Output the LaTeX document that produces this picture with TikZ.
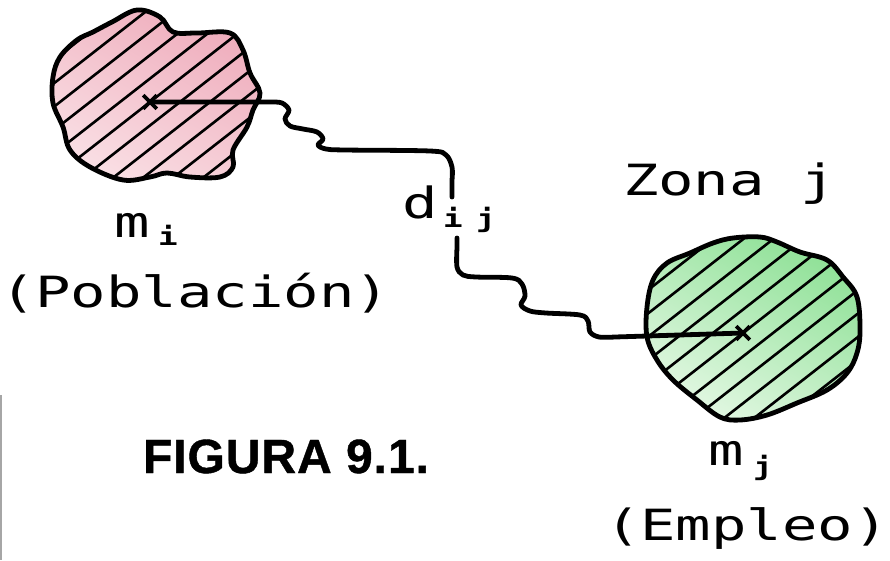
\documentclass[tikz,border=0pt]{standalone}
\usepackage{fontspec}
\newfontfamily\plotfont{DejaVu Sans Mono}
\newfontfamily\figfont[FakeBold=0.9,LetterSpace=2]{Liberation Sans Bold}
\usetikzlibrary{shapes.misc}
\definecolor{pinkA}{RGB}{238,170,186}
\definecolor{pinkB}{RGB}{250,225,230}
\definecolor{greenA}{RGB}{140,224,148}
\definecolor{greenB}{RGB}{228,248,228}
\newcommand\pf[1]{\scalebox{1.37}[1]{\fontsize{43}{43}\selectfont\plotfont #1}}
\newcommand\pfs[1]{\scalebox{1.3}[1]{\fontsize{25}{25}\selectfont\plotfont\bfseries #1}}
\tikzset{
  outline/.style={line width=4.8pt, line join=round},
  hatch/.style={line width=2.6pt},
  conn/.style={line width=4.8pt, line cap=round, line join=round},
  lbl/.style={anchor=base west, inner sep=0pt, outer sep=0pt},
  xmark/.style={cross out, draw, line width=3.6pt, minimum size=10pt, inner sep=0pt}
}
\begin{document}
\begin{tikzpicture}[x=1pt, y=-1pt]
\useasboundingbox (0,0) rectangle (890,560);
\fill[white] (0,0) rectangle (890,560);
% faint scan edge
\draw[black!35, line width=1.2pt] (1,395) -- (1,560);

% ---- zone i blob
\path[save path=\blobI] plot[smooth cycle, tension=0.6] coordinates {
(93,32) (112,22) (137,10) (160,17) (173,32) (197,33) (230,33) (243,50) (250,73) (260,93) (253,110) (247,127) (233,150) (233,167) (220,177) (190,177) (167,173) (150,177) (123,180) (90,167) (70,150) (63,127) (53,103) (53,77) (60,57) (77,40)};
\begin{scope}
\clip[use path=\blobI];
\shade[top color=pinkA, bottom color=pinkB, shading angle=-30] (40,0) rectangle (270,190);
\foreach \k in {-10,...,10}
  \draw[hatch] (150+\k*30-160,102+125) -- (150+\k*30+160,102-125);
\end{scope}
\draw[outline, use path=\blobI];

% ---- zone j blob
\path[save path=\blobJ] plot[smooth cycle, tension=0.6] coordinates {
(647,307) (653,280) (667,263) (690,253) (713,243) (733,238) (760,237) (777,242) (800,252) (827,260) (843,277) (857,297) (860,330) (857,353) (847,373) (827,390) (797,403) (767,415) (740,420) (720,417) (697,400) (673,380) (657,360) (647,337)};
\begin{scope}
\clip[use path=\blobJ];
\shade[top color=greenA, bottom color=greenB, shading angle=-30] (640,230) rectangle (870,425);
\foreach \k in {-10,...,10}
  \draw[hatch] (743+\k*30-160,333+125) -- (743+\k*30+160,333-125);
\end{scope}
\draw[outline, use path=\blobJ];

% ---- centres
\coordinate (ci) at (150,102);
\coordinate (cj) at (743,333);
\coordinate (dtop) at (452,197);
\coordinate (dbot) at (457,238);

% ---- wavy distance connector
\draw[conn] (ci) -- plot[smooth, tension=0.55] coordinates {
(272,102) (282,103) (289,110) (285,119) (290,126) (303,129) (317,132) (323,139) (318,145) (326,149) (345,150) (430,151) (446,155) (452,167) (452,180)} -- (dtop);
\draw[conn] (dbot) -- plot[smooth, tension=0.55] coordinates {
(457,248) (457,267) (463,275) (476,277) (512,278) (522,284) (525,296) (521,305) (530,311) (546,313) (580,315) (588,321) (590,332) (599,337) (615,337)} -- (cj);

\node[xmark] (xi) at (ci) {};
\node[xmark] (xj) at (cj) {};

% ---- labels
\node[lbl] (mi) at (114,237) {\pf{m}};
\node[lbl] (mis) at (158,245) {\pfs{i}};
\node[lbl] (pob) at (0,307) {\pf{(Población)}};
\node[lbl] (dij) at (402,218) {\pf{d}};
\node[lbl] (dsi) at (443,227) {\pfs{i}};
\node[lbl] (dsj) at (476,227) {\pfs{j}};
\node[lbl] (zona) at (623,195) {\pf{Zona j}};
\node[lbl] (mj) at (708,465) {\pf{m}};
\node[lbl] (mjs) at (753,475) {\pfs{j}};
\node[lbl] (emp) at (605,540) {\pf{(Empleo)}};
\node[lbl] (fig) at (143,473) {\fontsize{48}{48}\selectfont\figfont FIGURA 9.1.};
\end{tikzpicture}
\end{document}
